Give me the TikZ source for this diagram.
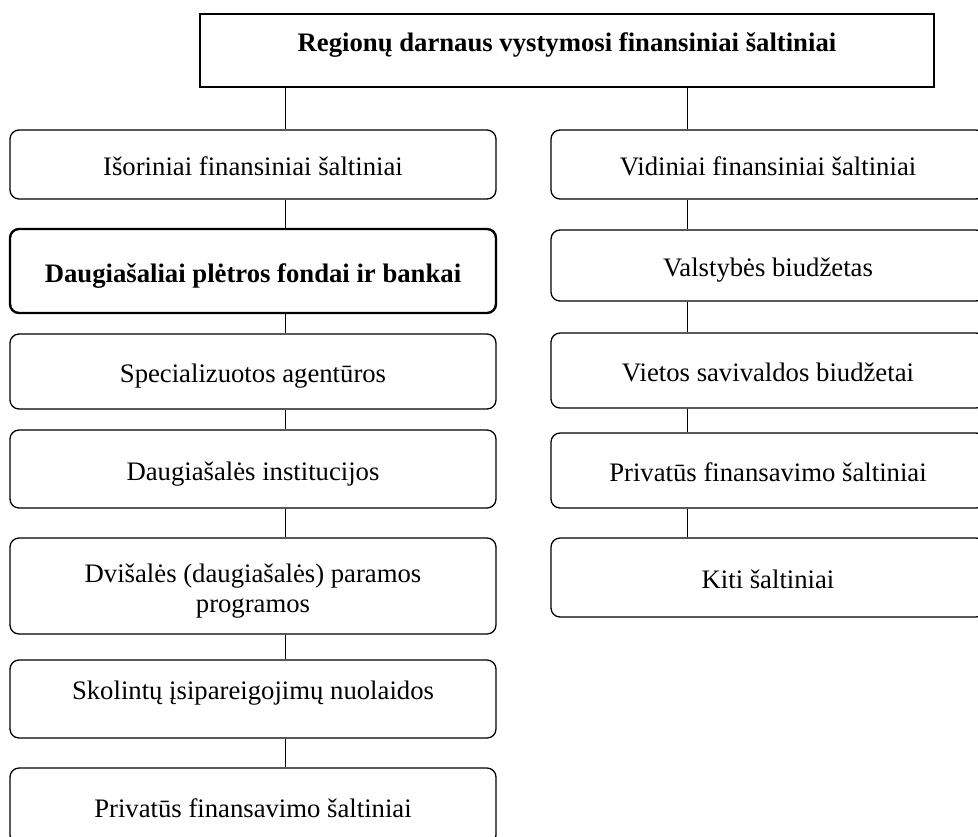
\documentclass[tikz,border=0pt]{standalone}
\usepackage{fontspec}
\setmainfont{Liberation Serif}
\usetikzlibrary{positioning}

\begin{document}
\begin{tikzpicture}[x=0.5pt, y=-0.5pt]
      \useasboundingbox (0,0) rectangle (978,836);
      \coordinate (lx) at (285,0);
      \coordinate (rx) at (687,0);
      \node[draw, line width=0.85pt, inner sep=0pt, minimum width=367pt, minimum height=36.5pt,
        text height=12pt, text depth=11pt, font=\fontsize{13.35}{15}\selectfont\bfseries]
        (root) at (567,50.5) {Regionų darnaus vystymosi finansiniai šaltiniai};
      \begin{scope}[every node/.style={draw, rounded corners=4.5pt, line width=0.65pt,
          inner sep=0pt, align=center, text height=14pt, text depth=3pt,
          font=\fontsize{13.35}{15}\selectfont}]
        % isoriniai
        \node[minimum width=243pt, minimum height=34.5pt] (ext) at (253,164.5) {Išoriniai finansiniai šaltiniai};
        \node[minimum width=243pt, minimum height=42pt, line width=1.2pt, font=\fontsize{13.35}{15}\selectfont\bfseries] (funds) at (253,271) {Daugiašaliai plėtros fondai ir bankai};
        \node[minimum width=243pt, minimum height=37.5pt] (agen) at (253,371.5) {Specializuotos agentūros};
        \node[minimum width=243pt, minimum height=39pt] (inst) at (253,469) {Daugiašalės institucijos};
        \node[minimum width=243pt, minimum height=48pt, text height=29pt] (prog) at (253,586) {Dvišalės (daugiašalės) paramos\\programos};
        \node[minimum width=243pt, minimum height=39pt, text depth=14pt] (debt) at (253,699) {Skolintų įsipareigojimų nuolaidos};
        \node[minimum width=243pt, minimum height=38pt] (privL) at (253,806) {Privatūs finansavimo šaltiniai};
        % vidiniai
        \node[minimum width=217pt, minimum height=34.5pt] (int) at (768,164.5) {Vidiniai finansiniai šaltiniai};
        \node[minimum width=217pt, minimum height=35.5pt] (state) at (768,265.5) {Valstybės biudžetas};
        \node[minimum width=217pt, minimum height=37.5pt] (local) at (768,370.5) {Vietos savivaldos biudžetai};
        \node[minimum width=217pt, minimum height=37.5pt] (privR) at (768,470.5) {Privatūs finansavimo šaltiniai};
        \node[minimum width=217pt, minimum height=39.5pt] (other) at (768,577.5) {Kiti šaltiniai};
      \end{scope}
      \begin{scope}[every edge/.style={draw=black, line width=0.5pt}]
        \path (root.south -| lx) edge (ext.north -| lx);
        \path (ext.south -| lx) edge (funds.north -| lx);
        \path (funds.south -| lx) edge (agen.north -| lx);
        \path (agen.south -| lx) edge (inst.north -| lx);
        \path (inst.south -| lx) edge (prog.north -| lx);
        \path (prog.south -| lx) edge (debt.north -| lx);
        \path (debt.south -| lx) edge (privL.north -| lx);
        \path (root.south -| rx) edge (int.north -| rx);
        \path (int.south -| rx) edge (state.north -| rx);
        \path (state.south -| rx) edge (local.north -| rx);
        \path (local.south -| rx) edge (privR.north -| rx);
        \path (privR.south -| rx) edge (other.north -| rx);
      \end{scope}
    \end{tikzpicture}
\end{document}
